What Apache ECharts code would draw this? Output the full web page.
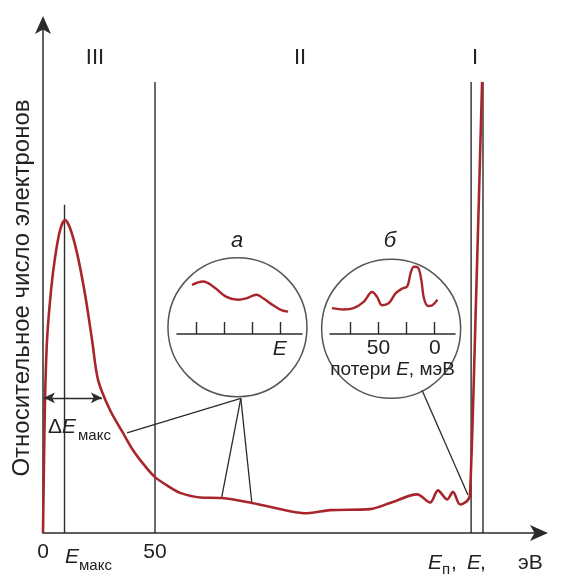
<!DOCTYPE html>
<html><head><meta charset="utf-8">
<script src="https://cdn.jsdelivr.net/npm/echarts@6/dist/echarts.min.js"></script>
<style>html,body{margin:0;padding:0;background:#fff}#c{width:568px;height:576px}</style>
</head><body><div id="c"></div>
<script>
// Main spectrum: energy (eV) vs relative electron count
const curveE = [0,0.45,0.9,1.8,3.6,5.4,7.6,9.8,12.1,15.2,18.8,21.9,24.6,29.9,35.7,40.2,45.5,50,56.7,61.2,70.1,79.9,93.3,110.3,117.9,128.1,146.0,154.9,167.0,172.8,176.3,180.4,183.0,186.2,189.3,190.6,193.3,196.0];
const curveN = [0,14.4,26.2,38.0,47.8,54.3,59.6,61.6,60.0,55.1,46.9,38.0,30.1,24.2,19.7,16.3,13.2,11.0,9.0,7.9,7.0,6.9,5.9,4.3,3.9,4.5,4.7,5.9,7.6,6.0,8.4,6.6,8.1,5.6,6.3,7.5,45.9,88.8];
// Vertical markers (eV) and their heights
const Emax = 9.6, E50 = 50, Ep = 191.1, E0 = 196.4;
const markerTop = 88.8, emaxTop = 64.6;
const xTickLabels = [0, 50];
// inset a (arbitrary energy units)
const insetAx = [0.84,1.24,1.60,2.08,2.50,2.80,3.16,3.40,3.76,4.06,4.30];
const insetAy = [7.0,7.5,6.8,5.3,4.9,5.1,5.6,5.1,4.1,3.4,3.2];
const insetATicks = [1,2,3,4];
// inset b: energy losses (meV)
const insetBx = [91.3,81.0,72.1,63.1,55.6,51.2,46.7,40.8,34.8,28.8,24.4,21.4,18.5,14.9,11.9,9.6,6.0,2.1,-2.4];
const insetBy = [3.7,3.5,3.7,4.6,6.0,5.3,4.1,4.4,5.8,6.5,6.8,8.7,9.6,9.5,7.7,5.1,4.0,4.1,4.9];
const insetBTicks = [0,25,50,75];
const insetBLabels = [0,50];
// inset circle centres (main coords) and connector end points
const circleCentres = [[86.8,40.5],[155.4,40.2]];
const connectors = [
  [[88.3,26.5],[79.8,7.1]],
  [[88.3,26.5],[93.2,6.0]],
  [[88.3,26.5],[37.5,19.7]],
  [[169.2,28.1],[189.7,7.5]]
];
const deltaY = 26.6, deltaX = [0.4, 26.3];

const RED = '#a8262b', BLK = '#2b2b2b', FONT = 'Liberation Sans';
const chart = echarts.init(document.getElementById('c'), null, {renderer:'canvas'});

const blackLine = (pts, extra) => Object.assign({
  type:'line', xAxisIndex:0, yAxisIndex:0, data:pts, symbol:'none', silent:true,
  lineStyle:{color:BLK, width:1.4}, z:2, animation:false
}, extra||{});

const series = [];
series.push({type:'line', data: curveE.map((e,i)=>[e,curveN[i]]), smooth:0.3,
  symbol:'none', lineStyle:{color:RED, width:2.6}, z:4, animation:false});
series.push(blackLine([[Emax,0],[Emax,emaxTop]]));
series.push(blackLine([[E50,0],[E50,markerTop]]));
series.push(blackLine([[Ep,0],[Ep,markerTop]]));
series.push(blackLine([[E0,0],[E0,markerTop]]));
connectors.forEach(c=>series.push(blackLine(c,{lineStyle:{color:BLK,width:1.3}})));
series.push({type:'line', data:[], xAxisIndex:0, yAxisIndex:0, animation:false,
  markLine:{silent:true, symbol:['arrow','arrow'], symbolSize:[8,11], label:{show:false},
    lineStyle:{color:BLK, width:1.3, type:'solid'},
    data:[[{coord:[deltaX[0],deltaY]},{coord:[deltaX[1],deltaY]}]]}});
series.push({type:'scatter', data:circleCentres, symbol:'circle', symbolSize:139, clip:false,
  itemStyle:{color:'rgba(255,255,255,0)', borderColor:BLK, borderWidth:1.5}, z:3, silent:true, animation:false});
series.push({type:'line', xAxisIndex:1, yAxisIndex:1, data:insetAx.map((v,i)=>[v,insetAy[i]]),
  smooth:0.4, symbol:'none', lineStyle:{color:RED,width:2.4}, z:6, animation:false});
series.push({type:'line', xAxisIndex:2, yAxisIndex:2, data:insetBx.map((v,i)=>[v,insetBy[i]]),
  smooth:0.35, symbol:'none', lineStyle:{color:RED,width:2.4}, z:6, animation:false});

const txt = (x,y,s,opt) => ({type:'text', x, y, z:10, style:Object.assign({text:s, fill:'#222',
  font:'21px "'+FONT+'"', align:'center', verticalAlign:'middle'}, opt||{})});
const ytitle = txt(22, 288, 'Относительное число электронов', {font:'24px "'+FONT+'"'});
ytitle.rotation = Math.PI/2;

chart.setOption({
  backgroundColor:'#fff',
  animation:false,
  grid:[
    {left:43, top:25, right:29, bottom:43},
    {left:177, top:264, width:125, height:70},
    {left:330, top:264, width:125, height:70}
  ],
  xAxis:[
    {type:'value', gridIndex:0, min:0, max:221.4, splitLine:{show:false},
      axisLine:{show:true, lineStyle:{color:BLK,width:1.5}, symbol:['none','arrow'], symbolSize:[12,18], symbolOffset:[0,9]},
      axisTick:{show:false},
      axisLabel:{customValues:xTickLabels, color:'#222', fontSize:21, fontFamily:FONT, margin:9}},
    {type:'value', gridIndex:1, min:0.3, max:4.8, splitLine:{show:false},
      axisLine:{show:true, lineStyle:{color:BLK,width:1.5}},
      axisTick:{show:true, customValues:insetATicks, inside:true, length:12, lineStyle:{color:BLK,width:1.4}},
      axisLabel:{customValues:[4], formatter:()=> 'E', fontStyle:'italic', color:'#222', fontSize:21, fontFamily:FONT, margin:5}},
    {type:'value', gridIndex:2, min:-18, max:93, inverse:true, splitLine:{show:false},
      axisLine:{show:true, lineStyle:{color:BLK,width:1.5}},
      axisTick:{show:true, customValues:insetBTicks, inside:true, length:12, lineStyle:{color:BLK,width:1.4}},
      axisLabel:{customValues:insetBLabels, color:'#222', fontSize:21, fontFamily:FONT, margin:4},
      name:'потери {i|E}, мэВ', nameLocation:'middle', nameGap:24,
      nameTextStyle:{color:'#222', fontSize:19, fontFamily:FONT, rich:{i:{fontStyle:'italic', fontSize:19, fontFamily:FONT, color:'#222'}}}}
  ],
  yAxis:[
    {type:'value', gridIndex:0, min:0, max:100, splitLine:{show:false},
      axisLine:{show:true, lineStyle:{color:BLK,width:1.5}, symbol:['none','arrow'], symbolSize:[12,18], symbolOffset:[0,9]},
      axisTick:{show:false}, axisLabel:{show:false}},
    {type:'value', gridIndex:1, min:0, max:10, show:false},
    {type:'value', gridIndex:2, min:0, max:10, show:false}
  ],
  series,
  graphic:[
    ytitle,
    txt(95, 58, 'III', {font:'22px "'+FONT+'"'}), txt(300, 58, 'II', {font:'22px "'+FONT+'"'}), txt(475, 58, 'I', {font:'22px "'+FONT+'"'}),
    txt(237, 241, 'а', {font:'italic 22px "'+FONT+'"'}),
    txt(390, 241, 'б', {font:'italic 22px "'+FONT+'"'}),
    txt(48, 427, 'Δ', {align:'left'}),
    txt(62, 427, 'E', {align:'left', font:'italic 21px "'+FONT+'"'}),
    txt(78, 436, 'макс', {align:'left', font:'15px "'+FONT+'"'}),
    txt(65, 557, 'E', {align:'left', font:'italic 21px "'+FONT+'"'}),
    txt(79, 566, 'макс', {align:'left', font:'15px "'+FONT+'"'}),
    txt(428, 563, 'E', {align:'left', font:'italic 21px "'+FONT+'"'}),
    txt(442, 570, 'п', {align:'left', font:'15px "'+FONT+'"'}),
    txt(451, 563, ',', {align:'left'}),
    txt(467, 563, 'E', {align:'left', font:'italic 21px "'+FONT+'"'}),
    txt(480, 563, ',', {align:'left'}),
    txt(518, 563, 'эВ', {align:'left'})
  ]
});
</script></body></html>
